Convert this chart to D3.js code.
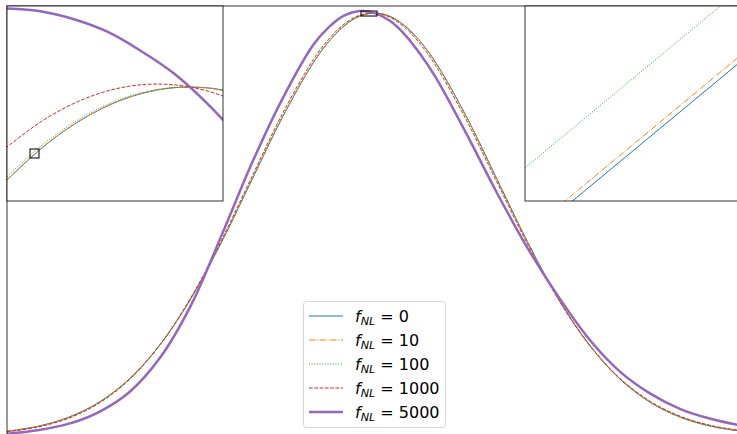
<!DOCTYPE html>
<html>
<head>
<meta charset="utf-8">
<script src="https://cdn.jsdelivr.net/npm/d3@7"></script>
<style>
  body { margin: 0; background: #fff; }
  svg { display: block; font-family: "DejaVu Sans", sans-serif; }
</style>
</head>
<body>
<svg id="chart" width="737" height="434"></svg>
<script>
// main view: PDF against x, one array per f_NL
const xGrid = [-3, -2.75, -2.5, -2.25, -2, -1.75, -1.5, -1.25, -1, -0.75, -0.5, -0.375, -0.25, -0.125,
    0, 0.125, 0.25, 0.375, 0.5, 0.75, 1, 1.25, 1.5, 1.75, 2, 2.25, 2.5, 2.75, 3];
const pdf0 = [0.00443, 0.00909, 0.01753, 0.03174, 0.05399, 0.08628, 0.12952, 0.18265, 0.24197, 0.30114, 0.35207, 0.37185, 0.38667, 0.39584,
    0.39894, 0.39584, 0.38667, 0.37185, 0.35207, 0.30114, 0.24197, 0.18265, 0.12952, 0.08628, 0.05399, 0.03174, 0.01753, 0.00909, 0.00443];
const pdf10 = [0.00443, 0.00908, 0.01752, 0.03173, 0.05398, 0.08628, 0.12953, 0.18267, 0.24200, 0.30117, 0.35210, 0.37187, 0.38669, 0.39585,
    0.39894, 0.39583, 0.38665, 0.37183, 0.35204, 0.30111, 0.24194, 0.18263, 0.12951, 0.08628, 0.05400, 0.03175, 0.01754, 0.00910, 0.00444];
const pdf100 = [0.00438, 0.00902, 0.01744, 0.03165, 0.05392, 0.08627, 0.12961, 0.18285, 0.24226, 0.30147, 0.35236, 0.37209, 0.38684, 0.39593,
    0.39894, 0.39575, 0.38650, 0.37161, 0.35178, 0.30081, 0.24168, 0.18245, 0.12943, 0.08629, 0.05406, 0.03183, 0.01762, 0.00916, 0.00448];
const pdf1000 = [0.00395, 0.00840, 0.01667, 0.03085, 0.05333, 0.08622, 0.13040, 0.18464, 0.24491, 0.30448, 0.35501, 0.37427, 0.38839, 0.39674,
    0.39894, 0.39494, 0.38495, 0.36943, 0.34913, 0.29780, 0.23903, 0.18066, 0.12864, 0.08634, 0.05465, 0.03264, 0.01839, 0.00978, 0.00491];
const pdf5000 = [0.0022, 0.0055, 0.0114, 0.0226, 0.0415, 0.0740, 0.1230, 0.1890, 0.2577, 0.3185, 0.3690, 0.3855, 0.3965, 0.4008,
    0.3989, 0.3916, 0.3782, 0.3598, 0.3380, 0.2850, 0.2290, 0.1770, 0.1315, 0.0915, 0.0610, 0.0400, 0.0252, 0.0160, 0.0096];

// first zoom (top left inset), around the peak
const zoomX = [-0.112, -0.09, -0.07, -0.05, -0.03, -0.01, 0.01, 0.021];
const zoom0 = [0.396617, 0.397430, 0.398016, 0.398457, 0.398747, 0.398892, 0.398890, 0.398825];
const zoom10 = [0.396624, 0.397438, 0.398021, 0.398459, 0.398750, 0.398892, 0.398890, 0.398822];
const zoom100 = [0.396697, 0.397496, 0.398067, 0.398493, 0.398769, 0.398900, 0.398883, 0.398810];
const zoom1000 = [0.397428, 0.398082, 0.398522, 0.398817, 0.398963, 0.398963, 0.398815, 0.398670];
const zoom5000 = [0.400809, 0.400737, 0.400543, 0.400241, 0.399781, 0.399236, 0.398515, 0.398050];

// second zoom (top right inset), inside the first one
const zoom2X = [-0.0972, -0.0944, -0.0916];
const zoom2_0 = [0.397143, 0.397246, 0.397349];
const zoom2_10 = [0.397150, 0.397253, 0.397356];
const zoom2_100 = [0.397224, 0.397327, 0.397430];

const fnlLabels = ["0", "10", "100", "1000", "5000"];

const series = [
    { main: pdf0, zoom: zoom0, zoom2: zoom2_0, color: "#1f77b4", dash: null, width: 1 },
    { main: pdf10, zoom: zoom10, zoom2: zoom2_10, color: "#ff7f0e", dash: "6.4,1.6,1,1.6", width: 1 },
    { main: pdf100, zoom: zoom100, zoom2: zoom2_100, color: "#2ca02c", dash: "1,1.65", width: 1 },
    { main: pdf1000, zoom: zoom1000, zoom2: null, color: "#d62728", dash: "3.7,1.6", width: 1 },
    { main: pdf5000, zoom: zoom5000, zoom2: null, color: "#9467bd", dash: null, width: 2.5 }
];
series.forEach((s, i) => s.label = fnlLabels[i]);

const svg = d3.select("#chart");

// panels: main axes, left inset, right inset
const main = {
    x: d3.scaleLinear().domain([-3, 3]).range([7, 742.2]),
    y: d3.scaleLinear().domain([0, 0.4056]).range([436, 6])
};
const inset1 = {
    x: d3.scaleLinear().domain([-0.1110, 0.0196]).range([7, 223]),
    y: d3.scaleLinear().domain([0.39615, 0.40087]).range([201, 6])
};
const inset2 = {
    x: d3.scaleLinear().domain([-0.09709, -0.09165]).range([525, 741]),
    y: d3.scaleLinear().domain([0.397191, 0.397409]).range([201, 6])
};

const defs = svg.append("defs");
function addClip(id, p) {
    const [x0, x1] = p.x.range(), [y1, y0] = p.y.range();
    defs.append("clipPath").attr("id", id).append("rect")
        .attr("x", x0).attr("y", y0).attr("width", x1 - x0).attr("height", y1 - y0);
}
addClip("clipMain", main);
addClip("clipIn1", inset1);
addClip("clipIn2", inset2);

function drawCurves(g, p, xs, key, curve) {
    series.filter(s => s[key]).forEach(s => {
        const line = d3.line()
            .x((d, i) => p.x(xs[i]))
            .y(d => p.y(d))
            .curve(curve);
        g.append("path")
            .datum(s[key])
            .attr("d", line)
            .attr("fill", "none")
            .attr("stroke", s.color)
            .attr("stroke-width", s.width)
            .attr("stroke-dasharray", s.dash);
    });
}

// box showing the zoomed region of a child panel inside its parent
function drawIndicator(g, parent, child) {
    const [dx0, dx1] = child.x.domain(), [dy0, dy1] = child.y.domain();
    g.append("rect")
        .attr("x", parent.x(dx0)).attr("y", parent.y(dy1))
        .attr("width", parent.x(dx1) - parent.x(dx0))
        .attr("height", parent.y(dy0) - parent.y(dy1))
        .attr("fill", "none").attr("stroke", "#111").attr("stroke-width", 1.1);
}

function drawFrame(g, p) {
    const [x0, x1] = p.x.range(), [y1, y0] = p.y.range();
    g.append("rect")
        .attr("x", x0).attr("y", y0).attr("width", x1 - x0).attr("height", y1 - y0)
        .attr("fill", "none").attr("stroke", "#000").attr("stroke-width", 0.8);
}

const curveSmooth = d3.curveCatmullRom.alpha(0.5);

// main axes
const gMain = svg.append("g");
drawCurves(gMain.append("g").attr("clip-path", "url(#clipMain)"), main, xGrid, "main", curveSmooth);
drawIndicator(gMain, main, inset1);
drawFrame(gMain, main);

// legend, lower center
const legend = svg.append("g");
legend.append("rect")
    .attr("x", 303.5).attr("y", 301.5).attr("width", 142).attr("height", 126)
    .attr("rx", 3).attr("fill", "#fff").attr("fill-opacity", 0.8)
    .attr("stroke", "#cccccc").attr("stroke-width", 0.8);
series.forEach((s, i) => {
    const cy = 316 + i * 24;
    legend.append("line")
        .attr("x1", 309).attr("x2", 343).attr("y1", cy).attr("y2", cy)
        .attr("stroke", s.color).attr("stroke-width", s.width)
        .attr("stroke-dasharray", s.dash);
    const t = legend.append("text")
        .attr("x", 355).attr("y", cy + 5.8)
        .attr("font-size", 16).attr("fill", "#000")
        .style("white-space", "pre");
    t.append("tspan").attr("font-style", "italic").text("f");
    t.append("tspan").attr("font-style", "italic").attr("font-size", 11.2).attr("dy", 3.3).text("NL");
    t.append("tspan").attr("dy", -3.3).text(" = " + s.label);
});

// left inset
const gIn1 = svg.append("g");
gIn1.append("rect").attr("x", 7).attr("y", 6).attr("width", 216).attr("height", 195).attr("fill", "#fff");
drawCurves(gIn1.append("g").attr("clip-path", "url(#clipIn1)"), inset1, zoomX, "zoom", curveSmooth);
drawIndicator(gIn1, inset1, inset2);
drawFrame(gIn1, inset1);

// right inset
const gIn2 = svg.append("g");
gIn2.append("rect").attr("x", 525).attr("y", 6).attr("width", 216).attr("height", 195).attr("fill", "#fff");
drawCurves(gIn2.append("g").attr("clip-path", "url(#clipIn2)"), inset2, zoom2X, "zoom2", d3.curveLinear);
drawFrame(gIn2, inset2);
</script>
</body>
</html>
